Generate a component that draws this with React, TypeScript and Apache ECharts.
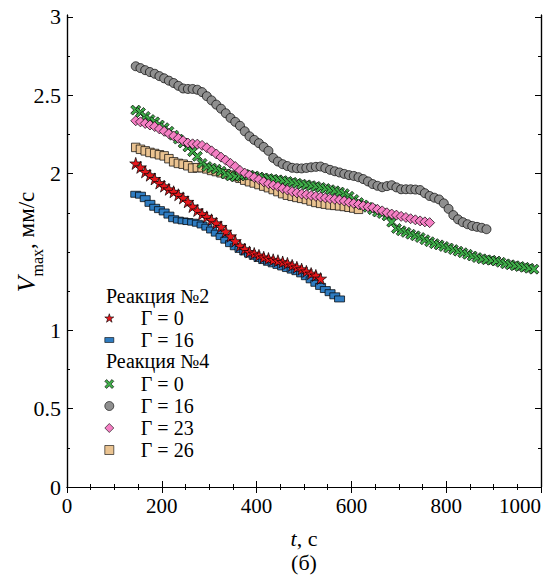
import React, { useEffect, useRef } from "react";
import * as echarts from "echarts";

const FONT = "Times New Roman";

// sampling times, s
const T = [145,155,165,175,185,195,205,215,225,235,245,255,265,275,285,295,305,315,325,335,345,355,365,375,385,395,405,415,425,435,445,455,465,475,485,495,505,515,525,535,545,555,565,575,585,595,605,615,625,635,645,655,665,675,685,695,705,715,725,735,745,755,765,775,785,795,805,815,825,835,845,855,865,875,885,895,905,915,925,935,945,955,965,975,985];

// Reaction 2
const r2g0 = [2.065,2.04,2.011,1.99,1.966,1.94,1.92,1.9,1.884,1.865,1.845,1.82,1.79,1.765,1.742,1.724,1.705,1.683,1.66,1.63,1.6,1.569,1.54,1.518,1.5,1.49,1.478,1.466,1.458,1.45,1.444,1.436,1.427,1.414,1.402,1.39,1.376,1.362,1.35,1.33];
const r2g16 = [1.868,1.862,1.84,1.81,1.785,1.77,1.755,1.735,1.712,1.703,1.698,1.694,1.69,1.683,1.672,1.658,1.64,1.62,1.598,1.575,1.553,1.533,1.516,1.5,1.486,1.472,1.458,1.445,1.434,1.424,1.414,1.404,1.394,1.384,1.374,1.36,1.342,1.322,1.3,1.28,1.26,1.24,1.22,1.2];

// Reaction 4
const r4g0 = [2.405,2.39,2.365,2.345,2.33,2.31,2.293,2.27,2.245,2.22,2.195,2.17,2.14,2.11,2.065,2.045,2.035,2.028,2.015,1.998,1.985,1.98,1.985,1.995,1.99,1.985,1.978,1.972,1.968,1.964,1.96,1.955,1.95,1.944,1.938,1.932,1.928,1.923,1.918,1.912,1.905,1.897,1.89,1.882,1.872,1.855,1.835,1.815,1.8,1.785,1.77,1.755,1.745,1.73,1.69,1.65,1.635,1.625,1.613,1.603,1.592,1.578,1.565,1.553,1.545,1.535,1.525,1.515,1.505,1.495,1.485,1.474,1.464,1.456,1.45,1.447,1.442,1.434,1.424,1.418,1.412,1.407,1.402,1.396,1.39];
const r4g16 = [2.685,2.673,2.66,2.648,2.637,2.622,2.608,2.593,2.578,2.56,2.543,2.54,2.54,2.535,2.52,2.494,2.467,2.44,2.414,2.385,2.355,2.33,2.305,2.27,2.238,2.215,2.194,2.17,2.145,2.1,2.077,2.06,2.048,2.037,2.034,2.033,2.036,2.04,2.043,2.045,2.035,2.024,2.015,2.007,1.998,1.99,1.985,1.977,1.965,1.95,1.933,1.922,1.913,1.92,1.926,1.912,1.9,1.9,1.9,1.898,1.895,1.875,1.857,1.846,1.835,1.81,1.775,1.735,1.708,1.69,1.677,1.666,1.66,1.654,1.645];
const r4g23 = [2.337,2.33,2.32,2.31,2.3,2.285,2.27,2.255,2.24,2.225,2.21,2.195,2.19,2.188,2.18,2.165,2.145,2.125,2.105,2.085,2.065,2.045,2.02,2.003,1.99,1.975,1.962,1.948,1.935,1.926,1.918,1.905,1.895,1.885,1.877,1.87,1.865,1.86,1.855,1.85,1.845,1.84,1.836,1.832,1.825,1.817,1.81,1.803,1.795,1.788,1.783,1.772,1.762,1.75,1.742,1.735,1.727,1.72,1.712,1.705,1.698,1.692,1.687];
const r4g26 = [2.167,2.155,2.145,2.135,2.128,2.12,2.113,2.095,2.075,2.065,2.06,2.05,2.035,2.038,2.038,2.03,2.02,2.013,2.005,1.998,1.99,1.98,1.97,1.958,1.948,1.94,1.93,1.92,1.91,1.898,1.885,1.872,1.862,1.855,1.848,1.842,1.835,1.825,1.816,1.81,1.805,1.8,1.797,1.794,1.79,1.785,1.78,1.772];

const yMajor = [0, 0.5, 1, 2, 2.5, 3];
const yMinor = [0.25, 0.75, 1.25, 1.5, 1.75, 2.25, 2.75];

const STAR = "path://M5,0 L6.12,3.45 L9.76,3.45 L6.82,5.59 L7.94,9.05 L5,6.91 L2.06,9.05 L3.18,5.59 L0.24,3.45 L3.88,3.45 Z";
const CROSS = "path://M0,2 L2,0 L5,3 L8,0 L10,2 L7,5 L10,8 L8,10 L5,7 L2,10 L0,8 L3,5 Z";
const FLATRECT = "path://M0,0 L10,0 L10,5.5 L0,5.5 Z";

const toPairs = (vals: number[]) => vals.map((v, i) => [T[i], v]);

export default function App() {
  const ref = useRef<HTMLDivElement>(null);
  useEffect(() => {
    if (!ref.current) return;
    const chart = echarts.init(ref.current, null, { renderer: "svg" });
    const border = { borderColor: "#000", borderWidth: 0.7 };
    const mk = (name: string, data: number[], symbol: string, size: any, color: string) => ({
      type: "scatter",
      name,
      data: toPairs(data),
      symbol,
      symbolSize: size,
      itemStyle: { color, ...border, opacity: 1 },
      emphasis: { disabled: true },
    });
    const names: Record<string, string> = {
      a: "Γ = 0", b: "Γ = 16", c: "Γ = 0", d: "Γ = 16", e: "Γ = 23", f: "Γ = 26",
    };
    const legendBase = {
      orient: "vertical",
      itemWidth: 9,
      itemHeight: 9,
      itemGap: 2,
      padding: 0,
      selectedMode: false,
      formatter: (n: string) => names[n],
      itemStyle: { borderColor: "#000", borderWidth: 0.6 },
      textStyle: { fontFamily: FONT, fontSize: 20, color: "#000", lineHeight: 20, padding: [0, 0, 0, 22] },
    };
    const axisLine = { show: true, lineStyle: { color: "#000", width: 1.2 } };
    const xCommon = {
      type: "value", min: 0, max: 1000, interval: 200,
      axisLine, splitLine: { show: false },
      axisTick: { inside: true, length: 6, lineStyle: { color: "#000", width: 1 } },
      minorTick: { show: true, splitNumber: 4, length: 3, lineStyle: { color: "#000", width: 1 } },
    };
    const yCommon = {
      type: "value", min: 0, max: 3.012,
      axisLine, splitLine: { show: false },
    };
    chart.setOption({
      animation: false,
      grid: { left: 67, right: 8, top: 15, bottom: 90, containLabel: false, outerBoundsMode: "none" },
      xAxis: [
        { ...xCommon, position: "bottom",
          axisLabel: { fontFamily: FONT, fontSize: 21, color: "#000", margin: 8, alignMaxLabel: "right", formatter: (v: number) => String(v) } },
        { ...xCommon, position: "top", axisLabel: { show: false } },
      ],
      yAxis: [
        { ...yCommon, position: "left",
          axisTick: { inside: true, length: 6, customValues: yMajor, lineStyle: { color: "#000" } },
          axisLabel: { customValues: yMajor, fontFamily: FONT, fontSize: 22, color: "#000", margin: 6, formatter: (v: number) => String(v) } },
        { ...yCommon, position: "left",
          axisTick: { inside: true, length: 3, customValues: yMinor, lineStyle: { color: "#000" } },
          axisLabel: { show: false } },
        { ...yCommon, position: "right",
          axisTick: { inside: true, length: 6, customValues: yMajor, lineStyle: { color: "#000" } },
          axisLabel: { show: false } },
        { ...yCommon, position: "right",
          axisTick: { inside: true, length: 3, customValues: yMinor, lineStyle: { color: "#000" } },
          axisLabel: { show: false } },
      ],
      legend: [
        { ...legendBase, left: 104.5, top: 308, data: [{ name: "a", icon: STAR }, { name: "b", icon: FLATRECT }] },
        { ...legendBase, left: 104.5, top: 374, data: [
          { name: "c", icon: CROSS }, { name: "d", icon: "circle" },
          { name: "e", icon: "diamond" }, { name: "f", icon: "rect" } ] },
      ],
      series: [
        mk("f", r4g26, "rect", 8.5, "#eac391"),
        mk("c", r4g0, CROSS, 10, "#3fae49"),
        mk("e", r4g23, "diamond", 10, "#f57fc4"),
        mk("d", r4g16, "circle", 9, "#8f8f8f"),
        mk("b", r2g16, FLATRECT, [10, 6], "#2f7cc1"),
        mk("a", r2g0, STAR, 12, "#e8171c"),
      ],
      graphic: [
        { type: "text", left: 106, top: 286, style: { text: "Реакция №2", fontFamily: FONT, fontSize: 20, fill: "#000" } },
        { type: "text", left: 106, top: 351, style: { text: "Реакция №4", fontFamily: FONT, fontSize: 20, fill: "#000" } },
        { type: "text", x: 26, y: 242, rotation: Math.PI / 2,
          style: {
            text: "{v|V}{s|max}{n|, мм/с}", align: "center", verticalAlign: "middle", fill: "#000",
            rich: {
              v: { fontFamily: FONT, fontSize: 26, fontStyle: "italic", lineHeight: 38 },
              s: { fontFamily: FONT, fontSize: 16, lineHeight: 16, verticalAlign: "bottom" },
              n: { fontFamily: FONT, fontSize: 23, lineHeight: 38 },
            },
          } },
        { type: "text", x: 304, y: 538,
          style: {
            text: "{i|t}{n|, с}", align: "center", verticalAlign: "middle", fill: "#000",
            rich: {
              i: { fontFamily: FONT, fontSize: 22, fontStyle: "italic" },
              n: { fontFamily: FONT, fontSize: 22 },
            },
          } },
        { type: "text", x: 304, y: 562,
          style: { text: "(б)", align: "center", verticalAlign: "middle", fontFamily: FONT, fontSize: 22, fill: "#000" } },
      ],
    });
    return () => chart.dispose();
  }, []);
  return <div ref={ref} style={{ position: "fixed", left: 0, top: 0, width: 549, height: 577, background: "#fff" }} />;
}
